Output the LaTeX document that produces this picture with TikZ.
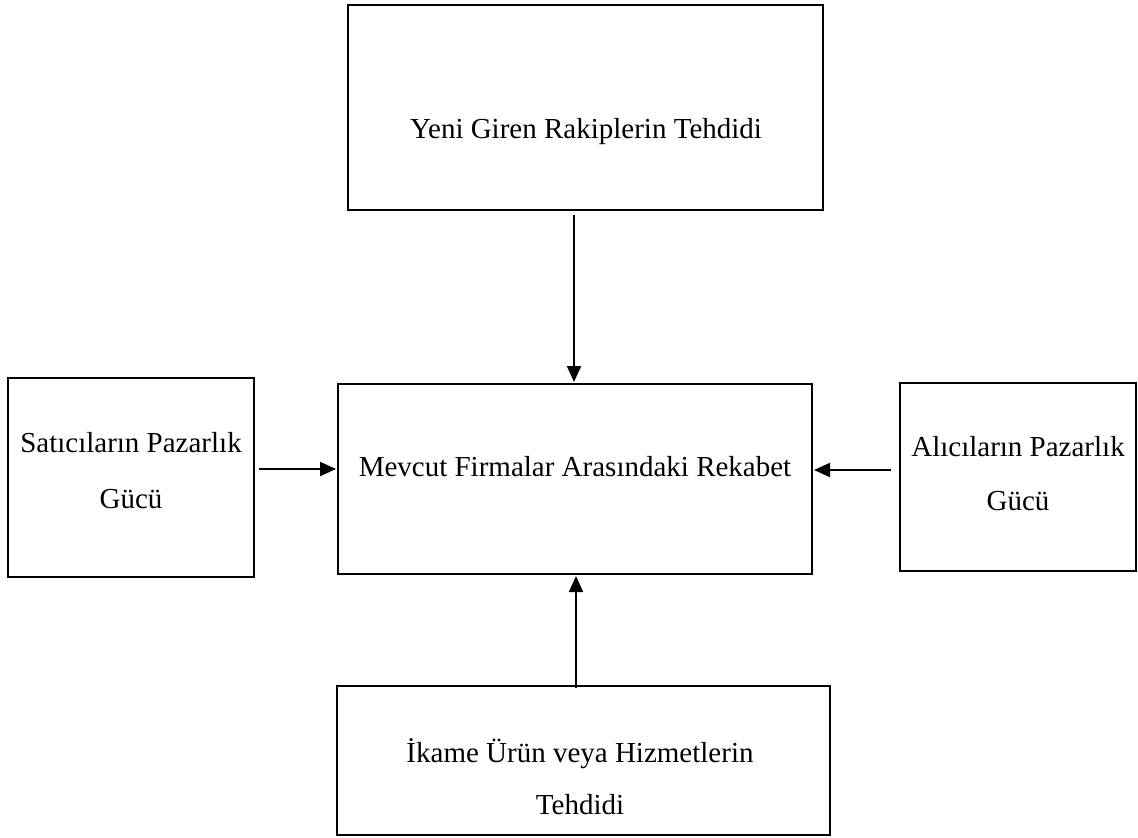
\documentclass[tikz,border=0pt]{standalone}
\usepackage{fontspec}
\setmainfont{Liberation Serif}
\usetikzlibrary{arrows.meta}
\begin{document}
\begin{tikzpicture}[x=1pt,y=-1pt,
  box/.style={draw,line width=2.2pt,inner sep=0pt},
  lbl/.style={font=\fontsize{29}{34}\selectfont,inner sep=0pt,anchor=base},
  arr/.style={line width=2pt,-{Triangle[length=16pt,width=14pt]}}]
\useasboundingbox (0,0) rectangle (1138,838);
\draw[box] (348,5) rectangle (823,210);
\draw[box] (8,378) rectangle (254,577);
\draw[box] (338,384) rectangle (812,574);
\draw[box] (900,383) rectangle (1136,571);
\draw[box] (337,686) rectangle (830,835);
\node[lbl] (t) at (586,138) {Yeni Giren Rakiplerin Tehdidi};
\node[lbl] (c) at (575,476) {Mevcut Firmalar Arasındaki Rekabet};
\node[lbl] (l1) at (131,452) {Satıcıların Pazarlık};
\node[lbl] (l2) at (131,508) {Gücü};
\node[lbl] (r1) at (1018,456) {Alıcıların Pazarlık};
\node[lbl] (r2) at (1018,510) {Gücü};
\node[lbl] (b1) at (580,762) {İkame Ürün veya Hizmetlerin};
\node[lbl] (b2) at (580,814) {Tehdidi};
\coordinate (ts) at (574,215);
\coordinate (te) at (574,382);
\coordinate (ls) at (259,469);
\coordinate (le) at (336,469);
\coordinate (rs) at (891,470);
\coordinate (re) at (814,470);
\coordinate (bs) at (576,688);
\coordinate (be) at (576,576);
\draw[arr] (ts) -- (te);
\draw[arr] (ls) -- (le);
\draw[arr] (rs) -- (re);
\draw[arr] (bs) -- (be);
\end{tikzpicture}
\end{document}
